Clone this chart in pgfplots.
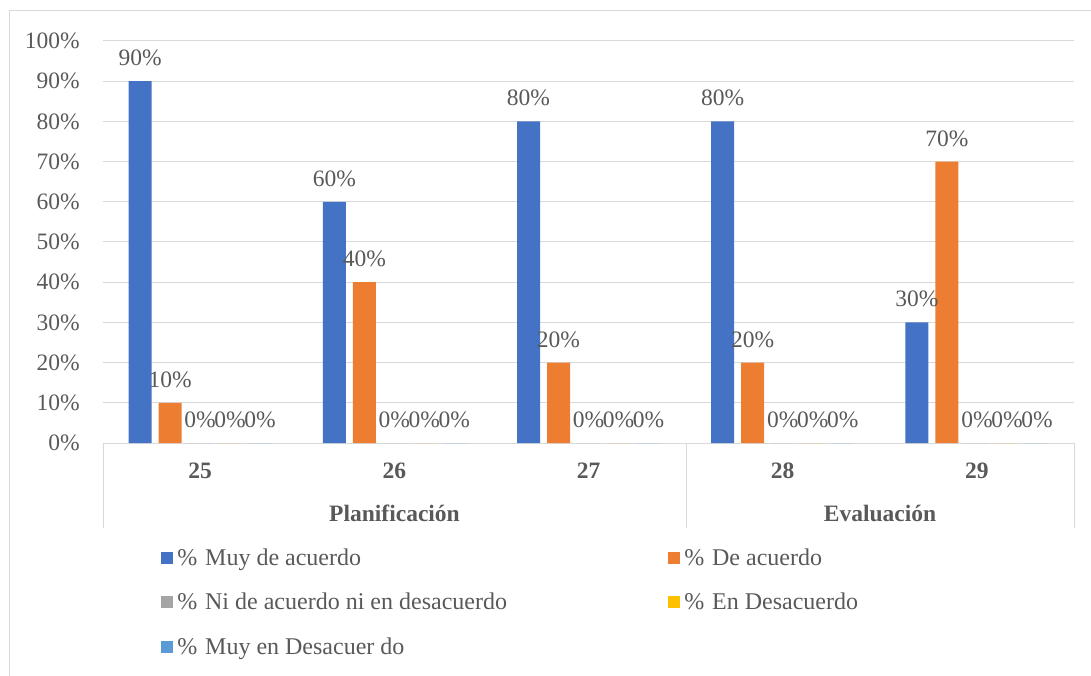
\documentclass[border=0pt]{standalone}
\usepackage{pgfplots}
\pgfplotsset{compat=1.18}
\usepackage{fontspec}
\setmainfont{Liberation Serif}
\definecolor{cblue}{HTML}{4472C4}
\definecolor{corange}{HTML}{ED7D31}
\definecolor{cgray}{HTML}{A5A5A5}
\definecolor{cyellow}{HTML}{FFC000}
\definecolor{clblue}{HTML}{5B9BD5}
\definecolor{textgray}{HTML}{595959}
\definecolor{gridgray}{HTML}{D9D9D9}
\begin{document}
\fontsize{23.5}{28}\selectfont
\begin{tikzpicture}[x=1pt,y=1pt]
\useasboundingbox (0,0) rectangle (1091,675);
\draw[color=gridgray, line width=1pt] (9,-10) -- (9,664) -- (1100,664);
\begin{axis}[
  at={(103pt,232pt)}, anchor=south west,
  scale only axis, x=194.2pt, y=4.02pt,
  xmin=-0.5, xmax=4.5, ymin=0, ymax=100,
  ybar=7pt, bar width=23pt,
  axis line style={draw=none},
  major tick length=0pt,
  ymajorgrids, grid style={color=gridgray, line width=1pt},
  ytick={0,10,...,100},
  xtick={0,1,2,3,4},
  xticklabels={25,26,27,28,29},
  /pgf/number format/assume math mode=true,
  yticklabel={\pgfmathprintnumber{\tick}\%},
  every tick label/.append style={text=textgray},
  yticklabel style={anchor=east, inner sep=0pt, xshift=-23pt},
  xticklabel style={anchor=center, inner sep=0pt, yshift=-28pt, font=\bfseries},
  point meta=y,
  nodes near coords={\pgfmathprintnumber{\pgfplotspointmeta}\%},
  every node near coord/.append style={text=textgray, inner sep=0pt, yshift=15pt},
  legend columns=2,
  legend cell align=left,
  legend style={at={(0.05973,-0.2612)}, anchor=north west, draw=none, fill=none,
    inner sep=0pt, outer sep=0pt, column sep=0pt, row sep=21.5pt,
    font=\fontsize{24}{28}\selectfont,
    nodes={inner sep=0pt, text=textgray, text height=17pt, text depth=6pt}},
  legend image code/.code={\fill[#1,draw=none] (0pt,-4pt) rectangle (12pt,8pt);},
]
\addplot[fill=cblue, draw=none] coordinates {(0,90) (1,60) (2,80) (3,80) (4,30)};
\addplot[fill=corange, draw=none] coordinates {(0,10) (1,40) (2,20) (3,20) (4,70)};
\addplot[fill=cgray, draw=none] coordinates {(0,0) (1,0) (2,0) (3,0) (4,0)};
\addplot[fill=cyellow, draw=none] coordinates {(0,0) (1,0) (2,0) (3,0) (4,0)};
\addplot[fill=clblue, draw=none] coordinates {(0,0) (1,0) (2,0) (3,0) (4,0)};
\legend{\makebox[495pt][l]{\hspace{4.5pt}\%\hspace{7.7pt}Muy de acuerdo},
        \hspace{4.5pt}\%\hspace{7.7pt}De acuerdo,
        \makebox[495pt][l]{\hspace{4.5pt}\%\hspace{7.7pt}Ni de acuerdo ni en desacuerdo},
        \hspace{4.5pt}\%\hspace{7.7pt}En Desacuerdo,
        \makebox[495pt][l]{\hspace{4.5pt}\%\hspace{7.7pt}Muy en Desacuer do}}
\end{axis}
\draw[color=gridgray, line width=1pt] (103,232.5) -- (103,147);
\draw[color=gridgray, line width=1pt] (686,232.5) -- (686,147);
\draw[color=gridgray, line width=1pt] (1074,232.5) -- (1074,147);
\node[anchor=base, font=\bfseries, text=textgray, inner sep=0pt] at (394.5,154) {Planificación};
\node[anchor=base, font=\bfseries, text=textgray, inner sep=0pt] at (880,154) {Evaluación};
\end{tikzpicture}
\end{document}
